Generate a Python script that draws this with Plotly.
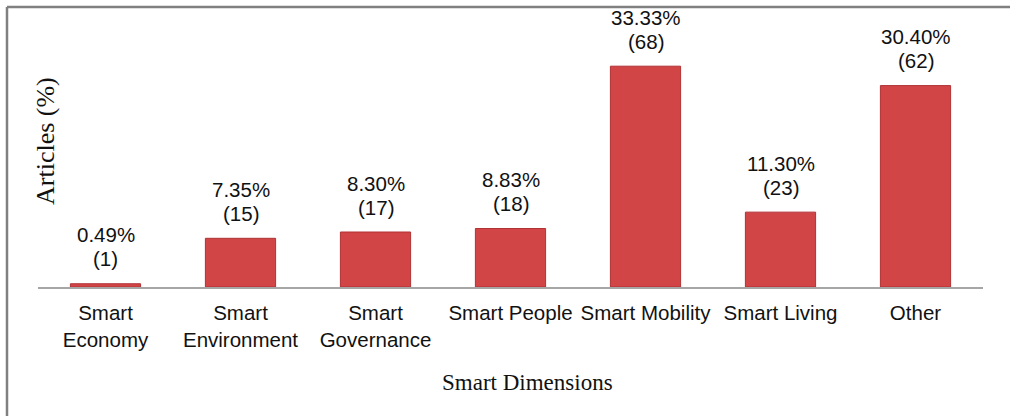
import plotly.graph_objects as go

categories = ["Smart<br>Economy", "Smart<br>Environment", "Smart<br>Governance",
              "Smart People", "Smart Mobility", "Smart Living", "Other"]
percent = [0.49, 7.35, 8.30, 8.83, 33.33, 11.30, 30.40]
counts = [1, 15, 17, 18, 68, 23, 62]

W, H = 1010, 416
L, R, T, B = 38, 27, 22, 129
pw, ph = W - L - R, H - T - B

sans = "Arial, Liberation Sans"
serif = "Times New Roman, Liberation Serif"

fig = go.Figure(go.Bar(
    x=categories, y=percent, width=0.52,
    marker=dict(color="#D24547", line=dict(color="#B03234", width=1)),
    hoverinfo="skip",
))

def px_x(x):
    return (x - L) / pw

def px_y(y):
    return (H - B - y) / ph

annotations = []
for c, p, n in zip(categories, percent, counts):
    annotations.append(dict(x=c, y=p, xref="x", yref="y", text=f"{p:.2f}%", showarrow=False,
                            yanchor="middle", yshift=49,
                            font=dict(family=sans, size=20.5, color="#111111")))
    annotations.append(dict(x=c, y=p, xref="x", yref="y", text=f"({n})", showarrow=False,
                            yanchor="middle", yshift=25,
                            font=dict(family=sans, size=20.5, color="#111111")))
annotations += [
    dict(text="Smart Dimensions", xref="paper", yref="paper", x=px_x(527), y=px_y(382),
         xanchor="center", yanchor="middle", showarrow=False,
         font=dict(family=serif, size=23, color="#111111")),
    dict(text="Articles (%)", xref="paper", yref="paper", x=px_x(45), y=px_y(141),
         xanchor="center", yanchor="middle", textangle=-90, showarrow=False,
         font=dict(family=serif, size=26, color="#111111")),
]

fig.update_layout(
    width=W, height=H, margin=dict(l=L, r=R, t=T, b=B),
    paper_bgcolor="white", plot_bgcolor="white", showlegend=False,
    xaxis=dict(showline=True, linecolor="#A6A6A6", linewidth=1.5, ticks="",
               ticklabelstandoff=7,
               tickfont=dict(family=sans, size=20.5, color="#111111"),
               showgrid=False, zeroline=False),
    yaxis=dict(range=[0, 40], visible=False, showgrid=False, zeroline=False),
    annotations=annotations,
    shapes=[
        dict(type="line", xref="paper", yref="paper", x0=px_x(7), x1=px_x(1015), y0=px_y(7), y1=px_y(7),
             line=dict(color="#808080", width=2.5)),
        dict(type="line", xref="paper", yref="paper", x0=px_x(7), x1=px_x(7), y0=px_y(7), y1=px_y(420),
             line=dict(color="#808080", width=2.5)),
    ],
)

fig.write_html("out.html")
